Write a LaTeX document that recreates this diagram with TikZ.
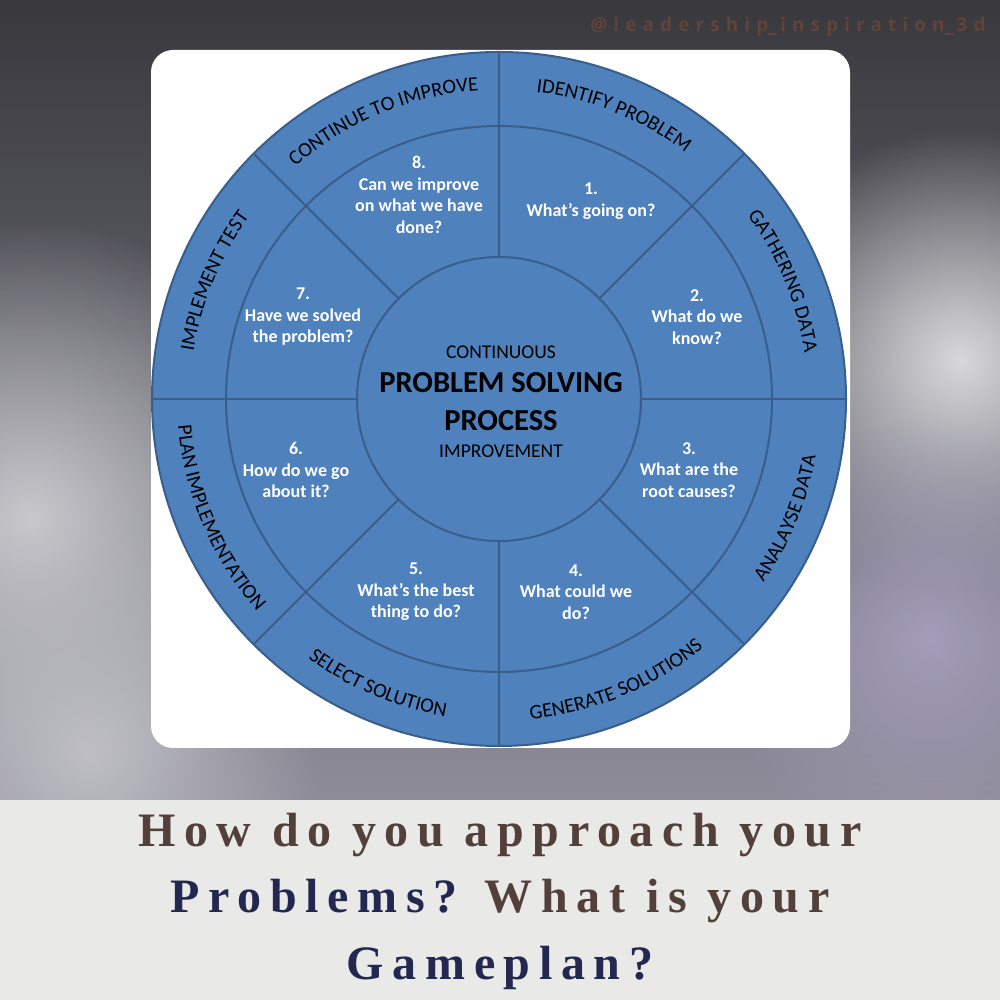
\documentclass[tikz,border=0pt]{standalone}
\usepackage{fontspec}
\setmainfont{Carlito}
\newfontfamily\capfont{Liberation Serif}[LetterSpace=18]
\newfontfamily\wmfont{Open Sans}[LetterSpace=32]
\usetikzlibrary{decorations.text,fadings}
\definecolor{ringblue}{HTML}{4F81BD}
\definecolor{ringline}{HTML}{395E8B}
\definecolor{capbrown}{HTML}{54403A}
\definecolor{capnavy}{HTML}{232850}
\definecolor{wmcol}{HTML}{60433A}
\definecolor{bgtop}{HTML}{38383D}
\definecolor{bgbottom}{HTML}{8E8C99}
\definecolor{band}{HTML}{E9E9E7}
\tikzfading[name=softspot, inner color=transparent!0, outer color=transparent!100]
\newcommand\outerfont{\fontsize{20.5}{24}\selectfont}
\newcommand\wmbar{\rule[-3pt]{9pt}{2.2pt}\hspace{3pt}}
\newcommand\cwlabel[2]{\path[decorate,decoration={text along path,text align=center,text={|\color{black}\outerfont|#2}}] (#1+40:309pt) arc[start angle=#1+40,end angle=#1-40,radius=309pt];}
\newcommand\ccwlabel[2]{\path[decorate,decoration={text along path,text align=center,text={|\color{black}\outerfont|#2}}] (#1-40:322pt) arc[start angle=#1-40,end angle=#1+40,radius=322pt];}
\tikzset{
  innertxt/.style={text=white, font=\bfseries\fontsize{18}{21.5}\selectfont, align=center, inner sep=0pt},
  centertxt/.style={text=black, font=\fontsize{19.5}{22}\selectfont, inner sep=0pt},
  centerbig/.style={text=black, font=\bfseries\fontsize{30.5}{36}\selectfont, inner sep=0pt},
  ringfill/.style={fill=ringblue, draw=ringline, line width=2pt},
  divider/.style={draw=ringline, line width=2pt},
  captxt/.style={font=\capfont\bfseries\fontsize{48}{58}\selectfont, anchor=base, inner sep=0pt, text=capbrown}
}
\begin{document}
\begin{tikzpicture}[x=1pt,y=1pt]
\useasboundingbox (0,0) rectangle (1000,1000);
% background
\begin{scope}
\clip (0,200) rectangle (1000,1000);
\shade[top color=bgtop, bottom color=bgbottom] (0,200) rectangle (1000,1000);
\fill[color={rgb,255:red,200;green,200;blue,205}, path fading=softspot] (30,480) circle (300pt);
\fill[color={rgb,255:red,190;green,190;blue,196}, path fading=softspot] (90,250) circle (230pt);
\fill[color={rgb,255:red,216;green,216;blue,220}, path fading=softspot] (960,640) circle (230pt);
\fill[color={rgb,255:red,163;green,157;blue,185}, path fading=softspot] (930,360) circle (220pt);
\end{scope}
\fill[band] (0,0) rectangle (1000,200);
% watermark
\node[text=wmcol, font=\wmfont\bfseries\fontsize{19}{22}\selectfont, inner sep=0pt] (wm) at (788,973) {@leadership\wmbar inspiration\wmbar 3d};
% white card
\fill[white, rounded corners=22pt] (151,252) rectangle (850,950);
% wheel
\begin{scope}[shift={(499,601)}]
\path[ringfill] (0,0) circle (347pt);
\draw[divider] (0,0) circle (273pt);
\draw[divider] (0,0) circle (142pt);
\foreach \a in {0,45,...,315} {\draw[divider] (\a:142pt) -- (\a:347pt);}
% outer labels
\cwlabel{68}{IDENTIFY PROBLEM}
\cwlabel{22.5}{GATHERING DATA}
\ccwlabel{-22.5}{ANALAYSE DATA}
\ccwlabel{-67.5}{GENERATE SOLUTIONS}
\ccwlabel{247}{SELECT SOLUTION}
\ccwlabel{203}{PLAN IMPLEMENTATION}
\cwlabel{157.5}{IMPLEMENT TEST}
\cwlabel{112.5}{CONTINUE TO IMPROVE}
% inner ring
\node[innertxt] (s1) at (92,198) {1.\\What’s going on?};
\node[innertxt] (s2) at (198,82) {2.\\What do we\\know?};
\node[innertxt] (s3) at (190,-71) {3.\\What are the\\root causes?};
\node[innertxt] (s4) at (77,-193) {4.\\What could we\\do?};
\node[innertxt] (s5) at (-83,-193) {5.\\What’s the best\\thing to do?};
\node[innertxt] (s6) at (-203,-71) {6.\\How do we go\\about it?};
\node[innertxt] (s7) at (-196,82) {7.\\Have we solved\\the problem?};
\node[innertxt] (s8) at (-80,204) {8.\\Can we improve\\on what we have\\done?};
% center
\node[centertxt] (c1) at (2,47) {CONTINUOUS};
\node[centerbig] (c2) at (2,16) {PROBLEM SOLVING};
\node[centerbig] (c3) at (2,-22) {PROCESS};
\node[centertxt] (c4) at (2,-52) {IMPROVEMENT};
\end{scope}
% caption
\node[captxt] (q1) at (500,153) {How do you approach your};
\node[captxt] (q2) at (500,87) {\textcolor{capnavy}{Problems?} What is your};
\node[captxt, text=capnavy] (q3) at (500,20) {Gameplan?};
\end{tikzpicture}
\end{document}
